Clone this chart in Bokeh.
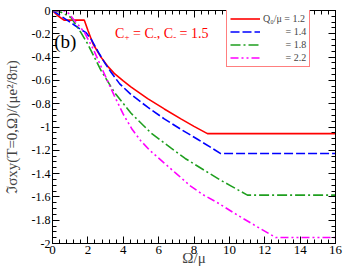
import numpy as np
from bokeh.plotting import figure
from bokeh.models import (Range1d, LinearAxis, FixedTicker, Legend, LegendItem, Label)
from bokeh.embed import file_html
from bokeh.resources import INLINE

# ---- data ----
q_labels = ["Q\u2080/\u03bc = 1.2", "= 1.4", "= 1.8", "= 2.2"]

omega_12 = [0, 0.3, 0.65, 1.8, 2.0, 2.3, 2.74, 3.1, 3.49, 4.0, 4.43, 5.38, 6.32, 7.26, 8.0, 8.76, 16]
sigma_12 = [0, -0.045, -0.083, -0.083, -0.17, -0.29, -0.40, -0.475, -0.54, -0.605, -0.655, -0.757, -0.845, -0.93, -0.995, -1.057, -1.057]

omega_14 = [0, 0.5, 1.0, 1.61, 1.9, 2.2, 2.6, 3.0, 3.31, 3.8, 4.43, 5.38, 6.32, 7.26, 8.2, 9.51, 16]
sigma_14 = [0, -0.05, -0.10, -0.165, -0.19, -0.25, -0.36, -0.46, -0.53, -0.63, -0.72, -0.83, -0.93, -1.02, -1.105, -1.228, -1.228]

omega_18 = [0, 0.5, 1.05, 1.61, 2.0, 2.74, 3.49, 4.43, 5.56, 6.69, 7.5, 8.57, 9.51, 10.08, 11.02, 16]
sigma_18 = [0, -0.015, -0.06, -0.19, -0.29, -0.514, -0.70, -0.88, -1.05, -1.18, -1.27, -1.37, -1.457, -1.505, -1.585, -1.585]

omega_22 = [0, 0.8, 1.24, 1.8, 2.3, 2.8, 3.49, 4.0, 4.5, 5.0, 5.5, 6.32, 7.0, 7.83, 8.5, 9.33, 10.5, 11.5, 12.62, 16]
sigma_22 = [0, -0.005, -0.086, -0.186, -0.33, -0.5, -0.73, -0.89, -1.02, -1.12, -1.2, -1.31, -1.40, -1.51, -1.58, -1.65, -1.76, -1.85, -1.948, -1.948]

x_ticks = [0, 2, 4, 6, 8, 10, 12, 14, 16]
x_tick_labels = ["0", "2", "4", "6", "8", "10", "12", "14", "16"]
y_ticks = [0, -0.2, -0.4, -0.6, -0.8, -1.0, -1.2, -1.4, -1.6, -1.8, -2.0]
y_tick_labels = ["0", "-0.2", "-0.4", "-0.6", "-0.8", "-1", "-1.2", "-1.4", "-1.6", "-1.8", "-2"]

FONT = "Liberation Serif"

p = figure(width=346, height=277, x_range=Range1d(0, 16), y_range=Range1d(-2, 0),
           output_backend="svg", toolbar_location=None,
           min_border_left=51, min_border_right=11, min_border_top=10, min_border_bottom=34)
p.xgrid.visible = False
p.ygrid.visible = False
p.outline_line_color = "black"
p.outline_line_width = 1
p.background_fill_color = "white"

x_minor = [float(v) for v in np.arange(0, 16.001, 0.4)]
y_minor = [float(v) for v in np.arange(-2, 0.001, 0.05)]
xt = FixedTicker(ticks=x_ticks, minor_ticks=x_minor)
yt = FixedTicker(ticks=y_ticks, minor_ticks=y_minor)

def style_axis(ax, ticker, labels_on, font_size):
    ax.ticker = ticker
    ax.major_tick_in = 7
    ax.major_tick_out = 0
    ax.minor_tick_in = 4
    ax.minor_tick_out = 0
    ax.axis_line_color = "black"
    ax.major_tick_line_color = "black"
    ax.minor_tick_line_color = "black"
    if labels_on:
        ax.major_label_text_font = FONT
        ax.major_label_text_font_size = font_size
        ax.major_label_text_color = "black"
    else:
        ax.major_label_text_font_size = "0px"
        ax.major_label_text_color = None
        ax.major_label_text_alpha = 0
        ax.major_label_standoff = 0

style_axis(p.xaxis[0], xt, True, "13px")
style_axis(p.yaxis[0], yt, True, "12px")
p.xaxis[0].major_label_overrides = {v: s for v, s in zip(x_ticks, x_tick_labels)}
p.yaxis[0].major_label_overrides = {v: s for v, s in zip(y_ticks, y_tick_labels)}
p.xaxis[0].major_label_standoff = 2
p.yaxis[0].major_label_standoff = 2

p.xaxis[0].axis_label = "\u03a9/\u03bc"
p.xaxis[0].axis_label_text_font = FONT
p.xaxis[0].axis_label_text_font_size = "15px"
p.xaxis[0].axis_label_text_font_style = "normal"
p.xaxis[0].axis_label_standoff = -7

p.yaxis[0].axis_label = "\u2111\u03c3xy(T=0,\u03a9)/(\u03bce\u00b2/8\u03c0)"
p.yaxis[0].axis_label_text_font = FONT
p.yaxis[0].axis_label_text_font_size = "15px"
p.yaxis[0].axis_label_text_font_style = "normal"
p.yaxis[0].axis_label_standoff = 9

top_ax = LinearAxis()
style_axis(top_ax, xt, False, "0px")
p.add_layout(top_ax, "above")
right_ax = LinearAxis()
style_axis(right_ax, yt, False, "0px")
p.add_layout(right_ax, "right")

r1 = p.line(omega_12, sigma_12, line_color="#ff0000", line_width=1.6)
r2 = p.line(omega_14, sigma_14, line_color="#0000ff", line_width=1.6, line_dash="9 3")
r3 = p.line(omega_18, sigma_18, line_color="#1f9f1f", line_width=1.6, line_dash="10 3 2 3")
r4 = p.line(omega_22, sigma_22, line_color="#ff00ff", line_width=1.6, line_dash="8 3 2 3 2 3")

nb = "\u00a0" * 9
legend = Legend(items=[
    LegendItem(label=q_labels[0], renderers=[r1]),
    LegendItem(label=nb + q_labels[1], renderers=[r2]),
    LegendItem(label=nb + q_labels[2], renderers=[r3]),
    LegendItem(label=nb + q_labels[3], renderers=[r4]),
], location=(174, 176))
legend.border_line_color = "#ff0000"
legend.border_line_width = 1.5
legend.background_fill_color = "white"
legend.background_fill_alpha = 1
legend.padding = 3
legend.spacing = 2
legend.margin = 0
legend.glyph_width = 30
legend.glyph_height = 11
legend.label_height = 11
legend.label_standoff = 3
legend.label_text_font = FONT
legend.label_text_font_size = "10px"
legend.label_text_baseline = "middle"
p.add_layout(legend)

p.add_layout(Label(x=0.1, y=-0.265, text="(b)", text_font=FONT, text_font_size="19px",
                   text_color="black", text_baseline="alphabetic"))

# annotation "C+ = C-, C- = 1.5" built from main text and subscript pieces
ann_x, ann_y = 3.53, -0.2
pieces = [("C", 0, 0, "14px"), ("+", 9.6, -3, "9px"), ("= C", 18.1, 0, "14px"),
          ("-", 38.9, -3, "9px"), (", C", 41.9, 0, "14px"), ("-", 58.2, -3, "9px"),
          ("= 1.5", 64.6, 0, "14px")]
for txt, dx, dy, fs in pieces:
    p.add_layout(Label(x=ann_x, y=ann_y, x_offset=dx, y_offset=dy, text=txt, text_font=FONT,
                       text_font_size=fs, text_color="#ff0000", text_baseline="alphabetic"))

open("out.html", "w").write(file_html(p, INLINE))
